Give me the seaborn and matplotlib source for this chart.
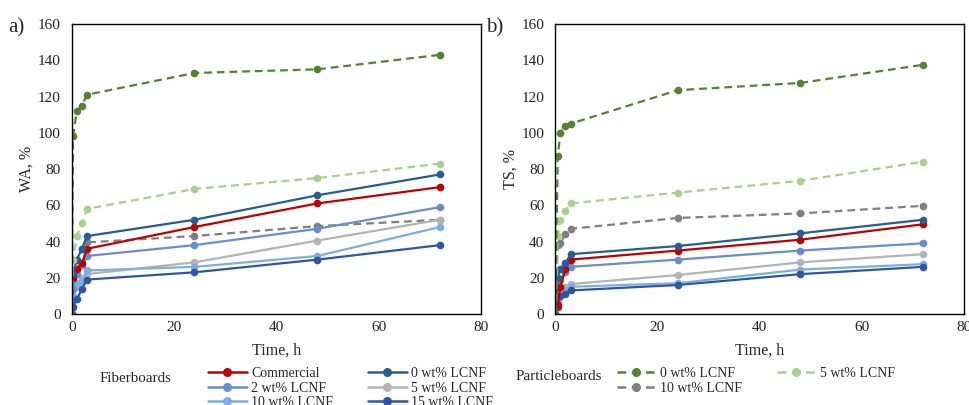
import matplotlib
matplotlib.use("Agg")
import matplotlib.pyplot as plt
import seaborn as sns
import pandas as pd
from matplotlib.lines import Line2D

sns.set_style("white")
plt.rcParams['font.family'] = ['Liberation Serif', 'DejaVu Serif']

# ---------------- data ----------------
time_a = [0, 0.25, 1, 2, 3, 24, 48, 72]
time_b = [0, 0.5, 1, 2, 3, 24, 48, 72]

fb_names = ["Commercial", "0 wt% LCNF", "2 wt% LCNF", "5 wt% LCNF", "10 wt% LCNF", "15 wt% LCNF"]
pb_names = ["0 wt% LCNF", "5 wt% LCNF", "10 wt% LCNF"]

# WA, % (panel a)
wa_fb_commercial = [0, 20, 25, 28, 36, 48, 61, 70]
wa_fb_0 = [0, 22, 30, 36, 43, 52, 65.5, 77]
wa_fb_2 = [0, 14, 22, 27, 32, 38, 47, 59]
wa_fb_5 = [0, 9, 15, 20, 22, 28.5, 40.5, 52]
wa_fb_10 = [0, 10, 17, 18, 24, 26, 32, 48]
wa_fb_15 = [0, 4, 8, 14, 19, 23, 30, 38]
wa_pb_0 = [0, 98, 112, 115, 121, 133, 135, 143]
wa_pb_5 = [0, 30, 43, 50, 58, 69, 75, 83]
wa_pb_10 = [0, 21, 30, 36, 39.5, 43, 48.5, 52]

# TS, % (panel b)
ts_fb_commercial = [0, 5, 15, 25, 30, 35, 41, 49.5]
ts_fb_0 = [0, 20, 25, 28, 33, 37.5, 44.5, 52]
ts_fb_2 = [0, 15, 19, 23, 26, 30, 35, 39]
ts_fb_5 = [0, 8, 12, 15, 16.5, 21.5, 28.5, 33]
ts_fb_10 = [0, 7, 11, 13, 15, 17, 24.5, 27.5]
ts_fb_15 = [0, 4, 10, 11, 13, 16, 22, 26]
ts_pb_0 = [0, 87, 100, 104, 105, 123.5, 127.5, 137.5]
ts_pb_5 = [0, 43, 52, 57, 61, 67, 73.5, 84]
ts_pb_10 = [0, 38, 39, 44, 47, 53, 55.5, 59.7]

fb_colors = ["#C00000", "#255E91", "#698ED0", "#B4B4B4", "#7CAFDD", "#2F55A4"]
pb_colors = ["#548235", "#A9D18E", "#7F7F7F"]

fig = plt.figure(figsize=(9.69, 4.05), dpi=100)
ax_a = fig.add_axes([0.074, 0.2247, 0.4224, 0.716])
ax_b = fig.add_axes([0.573, 0.2247, 0.4218, 0.716])

dash = (0, (3.5, 2.2))
MS = 5.5
LW = 1.6

def draw(ax, t, fb_vals, pb_vals):
    order = [("pb", 2), ("fb", 3), ("fb", 4), ("fb", 5), ("fb", 2), ("fb", 0), ("fb", 1), ("pb", 1), ("pb", 0)]
    for kind, i in order:
        if kind == "fb":
            df = pd.DataFrame({"t": t, "v": fb_vals[i]})
            sns.lineplot(data=df, x="t", y="v", ax=ax, color=fb_colors[i], marker="o",
                         markersize=MS, markeredgewidth=0, linewidth=LW, linestyle="-",
                         errorbar=None, sort=False)
        else:
            df = pd.DataFrame({"t": t, "v": pb_vals[i]})
            sns.lineplot(data=df, x="t", y="v", ax=ax, color=pb_colors[i], marker="o",
                         markersize=MS, markeredgewidth=0, linewidth=LW, linestyle=dash,
                         errorbar=None, sort=False)
    ax.set_xlim(0, 80)
    ax.set_ylim(0, 160)
    ax.set_xticks([0, 20, 40, 60, 80])
    ax.set_yticks(range(0, 161, 20))
    ax.tick_params(axis="x", length=0, labelsize=11, colors="#222222", pad=5)
    ax.tick_params(axis="y", length=0, labelsize=11, colors="#222222", pad=8)
    for s in ax.spines.values():
        s.set_visible(True)
        s.set_color("black")
        s.set_linewidth(1.0)
    ax.set_xlabel("Time, h", fontsize=11.5, labelpad=6)

draw(ax_a, time_a,
     [wa_fb_commercial, wa_fb_0, wa_fb_2, wa_fb_5, wa_fb_10, wa_fb_15],
     [wa_pb_0, wa_pb_5, wa_pb_10])
draw(ax_b, time_b,
     [ts_fb_commercial, ts_fb_0, ts_fb_2, ts_fb_5, ts_fb_10, ts_fb_15],
     [ts_pb_0, ts_pb_5, ts_pb_10])
ax_a.set_ylabel("WA, %", fontsize=11.5, labelpad=2)
ax_b.set_ylabel("TS, %", fontsize=11.5, labelpad=2)

fig.text(0.008, 0.92, "a)", fontsize=15)
fig.text(0.502, 0.92, "b)", fontsize=15)

# legends (row-wise order like the reference -> reorder for column-major filling)
fb_handles = [Line2D([], [], color=c, marker="o", markersize=6.5, markeredgewidth=0, linewidth=1.8)
              for c in fb_colors]
pb_handles = [Line2D([], [], color=c, marker="o", markersize=6.5, markeredgewidth=0, linewidth=1.8,
                     linestyle=dash) for c in pb_colors]
fb_order = [0, 2, 4, 1, 3, 5]
pb_order = [0, 2, 1]

fig.legend([fb_handles[i] for i in fb_order], [fb_names[i] for i in fb_order],
           ncol=2, loc="upper left", bbox_to_anchor=(0.2147, 0.094), frameon=False,
           fontsize=10, handlelength=2.8, handletextpad=0.3, columnspacing=2.5,
           labelspacing=0.12, borderpad=0, borderaxespad=0)
fig.text(0.103, 1 - 379 / 405, "Fiberboards", fontsize=10.8, va="center")

fig.legend([pb_handles[i] for i in pb_order], [pb_names[i] for i in pb_order],
           ncol=2, loc="upper left", bbox_to_anchor=(0.6367, 0.094), frameon=False,
           fontsize=10, handlelength=2.8, handletextpad=0.3, columnspacing=2.5,
           labelspacing=0.12, borderpad=0, borderaxespad=0)
fig.text(0.5325, 1 - 376 / 405, "Particleboards", fontsize=10.8, va="center")

fig.savefig("out.png", dpi=100)
